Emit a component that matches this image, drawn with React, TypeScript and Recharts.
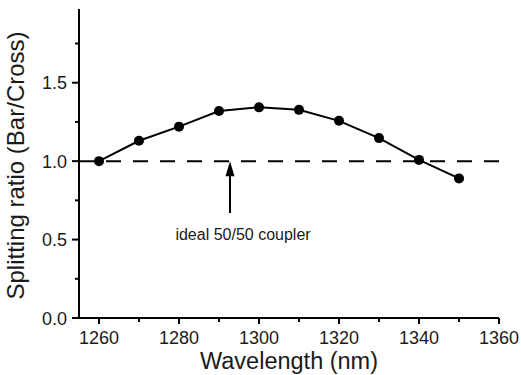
import React from 'react';
import { LineChart, Line, XAxis, YAxis, ReferenceLine, ReferenceDot } from 'recharts';

const wavelengths = [1260, 1270, 1280, 1290, 1300, 1310, 1320, 1330, 1340, 1350];
const ratios = [1.0, 1.13, 1.22, 1.32, 1.343, 1.327, 1.257, 1.147, 1.008, 0.89];
const xTicks = [1260, 1270, 1280, 1290, 1300, 1310, 1320, 1330, 1340, 1350, 1360];
const yTicks = [0, 0.25, 0.5, 0.75, 1.0, 1.25, 1.5, 1.75];
const xDomain = [1255, 1360];
const yDomain = [0, 1.97];
const idealRatio = 1.0;
const arrowX = 1292.75;
const arrowTail = 0.67;
const noteX = 1296;
const noteY = 0.53;
const noteText = 'ideal 50/50 coupler';
const xTitle = 'Wavelength (nm)';
const yTitle = 'Splitting ratio (Bar/Cross)';

const data = wavelengths.map((w, i) => ({ w, r: ratios[i] }));

const FONT = '"Liberation Sans", Arial, sans-serif';
const TXT = '#1a1a1a';

const isMajorX = (v: number) => v % 20 === 0;
const isMajorY = (v: number) => Math.abs(v * 2 - Math.round(v * 2)) < 1e-6;

const BottomTick = (p: any) => {
  const { x, y, payload } = p;
  const major = isMajorX(payload.value);
  return (
    <g>
      <line x1={x} x2={x} y1={y} y2={y + (major ? 6 : 4)} stroke="#000" strokeWidth={2} />
      {major && (
        <text x={x} y={y + 26} textAnchor="middle" fontSize={18} fontFamily={FONT} fill={TXT}>
          {payload.value}
        </text>
      )}
    </g>
  );
};

const TopTick = (p: any) => {
  const { x, y, payload } = p;
  const major = isMajorX(payload.value);
  return <line x1={x} x2={x} y1={y} y2={y + (major ? 6 : 4)} stroke="#000" strokeWidth={2} />;
};

const LeftTick = (p: any) => {
  const { x, y, payload } = p;
  const major = isMajorY(payload.value);
  return (
    <g>
      <line x1={x} x2={x - (major ? 7 : 4)} y1={y} y2={y} stroke="#000" strokeWidth={2} />
      {major && (
        <text x={x - 12} y={y + 6.5} textAnchor="end" fontSize={18} fontFamily={FONT} fill={TXT}>
          {payload.value.toFixed(1)}
        </text>
      )}
    </g>
  );
};

const RightTick = (p: any) => {
  const { x, y, payload } = p;
  const major = isMajorY(payload.value);
  return <line x1={x} x2={x - (major ? 7 : 4)} y1={y} y2={y} stroke="#000" strokeWidth={2} />;
};

const ArrowShape = (p: any) => {
  const { x1, y1, x2, y2 } = p;
  const tipY = Math.min(y1, y2);
  const tailY = Math.max(y1, y2);
  return (
    <g>
      <line x1={x1} x2={x2} y1={tailY} y2={tipY + 10} stroke="#000" strokeWidth={2} />
      <polygon points={`${x1},${tipY} ${x1 - 4.5},${tipY + 15} ${x1 + 4.5},${tipY + 15}`} fill="#000" />
    </g>
  );
};

const NoteShape = (p: any) => (
  <text x={p.cx} y={p.cy} textAnchor="middle" dominantBaseline="central" fontSize={16} fontFamily={FONT} fill={TXT}>
    {noteText}
  </text>
);

export default function App() {
  return (
    <div style={{ position: 'absolute', left: 0, top: 0, background: '#fff' }}>
      <LineChart width={521} height={375} data={data} margin={{ top: 9, right: 22, left: 0, bottom: 0 }}>
        <XAxis
          dataKey="w"
          type="number"
          domain={xDomain}
          ticks={xTicks}
          allowDataOverflow
          height={57}
          tickSize={0}
          tickMargin={0}
          tickLine={false}
          axisLine={{ stroke: '#000', strokeWidth: 2 }}
          tick={BottomTick}
          interval={0}
          label={{
            content: (lp: any) => {
              const vb = lp.viewBox;
              return (
                <text x={vb.x + vb.width / 2} y={vb.y + 50.5} textAnchor="middle" fontSize={23.5} fontFamily={FONT} fill={TXT}>
                  {xTitle}
                </text>
              );
            },
          }}
        />
        <XAxis
          xAxisId="top"
          orientation="top"
          dataKey="w"
          type="number"
          domain={xDomain}
          ticks={xTicks}
          allowDataOverflow
          height={0}
          tickSize={0}
          tickMargin={0}
          tickLine={false}
          axisLine={{ stroke: '#000', strokeWidth: 2 }}
          tick={TopTick}
          interval={0}
        />
        <YAxis
          type="number"
          domain={yDomain}
          ticks={yTicks}
          allowDataOverflow
          width={79}
          tickSize={0}
          tickMargin={0}
          tickLine={false}
          axisLine={{ stroke: '#000', strokeWidth: 2 }}
          tick={LeftTick}
          interval={0}
          label={{
            content: (lp: any) => {
              const vb = lp.viewBox;
              const cy = vb.y + vb.height / 2 + 2;
              return (
                <text x={24} y={cy} transform={`rotate(-90, 24, ${cy})`} textAnchor="middle" fontSize={24} fontFamily={FONT} fill={TXT}>
                  {yTitle}
                </text>
              );
            },
          }}
        />
        <YAxis
          yAxisId="right"
          orientation="right"
          type="number"
          domain={yDomain}
          ticks={yTicks}
          allowDataOverflow
          width={0}
          tickSize={0}
          tickMargin={0}
          tickLine={false}
          axisLine={{ stroke: '#000', strokeWidth: 2 }}
          tick={RightTick}
          interval={0}
        />
        <ReferenceLine y={idealRatio} stroke="#000" strokeWidth={2} strokeDasharray="15 12" />
        <ReferenceLine
          segment={[{ x: arrowX, y: arrowTail }, { x: arrowX, y: idealRatio }]}
          shape={ArrowShape}
        />
        <ReferenceDot x={noteX} y={noteY} r={0} shape={NoteShape} />
        <Line
          type="linear"
          dataKey="r"
          stroke="#000"
          strokeWidth={2}
          dot={{ r: 5, fill: '#000', stroke: '#000', strokeWidth: 0 }}
          isAnimationActive={false}
        />
      </LineChart>
    </div>
  );
}
